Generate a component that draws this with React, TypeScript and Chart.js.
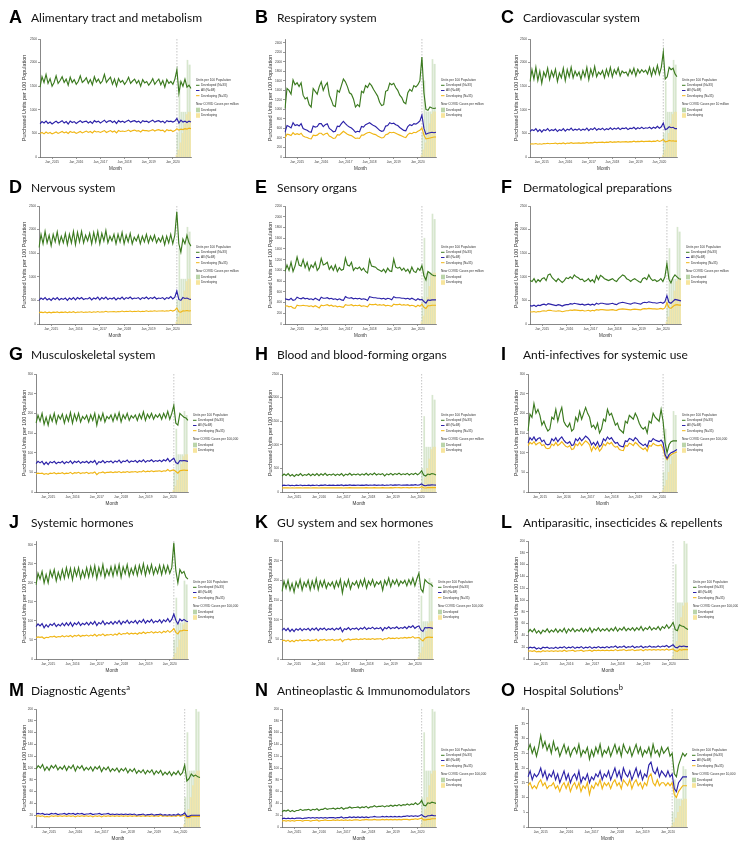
import React, { useEffect, useRef } from "react";
import { Chart, registerables } from "chart.js";
Chart.register(...registerables);

// ---------- categories ----------
const MONTH_NAMES = ["Jan","Feb","Mar","Apr","May","Jun","Jul","Aug","Sep","Oct","Nov","Dec"];
const MONTHS: string[] = [];
for (let i = 0; i < 76; i++) {
  const k = 6 + i; // starts Jul 2014
  MONTHS.push(`${MONTH_NAMES[k % 12]}_${2014 + Math.floor(k / 12)}`);
}
const X_TICK_LABELS = ["Jan_2015","Jan_2016","Jan_2017","Jan_2018","Jan_2019","Jan_2020"];
const COVID_START = "Mar_2020";
const COVID_MONTHS = ["Mar_2020","Apr_2020","May_2020","Jun_2020","Jul_2020","Aug_2020","Sep_2020","Oct_2020"];
const COVID_DEVELOPED_PER_MILLION = [500,1600,950,950,950,2050,1950,1950];
const COVID_DEVELOPING_PER_MILLION = [40,150,300,500,700,900,950,950];

// ---------- series (Jul 2014 .. Oct 2020) ----------
const A_DEV = [1480,1700,1580,1750,1560,1660,
1500,1580,1720,1560,1620,1700,1580,1650,1520,1690,1580,1640,
1540,1600,1720,1580,1620,1680,1560,1640,1530,1700,1590,1650,
1560,1610,1750,1580,1640,1690,1540,1650,1500,1660,1580,1620,
1540,1600,1690,1560,1610,1650,1560,1620,1500,1640,1570,1600,
1520,1580,1660,1540,1600,1650,1530,1620,1480,1640,1560,1600,
1540,1650,1850,1350,1600,1500,1650,1480,1520,1450];
const A_ALL = [700,750,720,760,710,740,
700,730,760,720,740,770,720,750,700,760,730,750,
710,740,770,730,750,760,720,750,710,770,740,760,
720,750,780,730,760,770,730,760,710,770,740,760,
730,760,780,740,760,770,740,760,720,770,750,760,
730,760,780,740,760,770,740,760,720,770,750,760,
740,760,820,720,780,740,760,730,760,740];
const A_DVG = [500,520,490,530,500,520,
490,510,530,500,520,540,510,530,500,540,520,530,
500,520,540,510,530,550,520,540,510,550,530,540,
520,540,560,520,540,560,530,550,510,560,540,550,
540,550,570,540,560,570,550,560,530,570,560,560,
550,560,580,550,570,580,560,570,530,580,560,570,
540,560,600,570,590,580,600,590,610,600];

const B_DEV = [1020,1440,1400,1320,1620,1520,
1560,1480,1560,1300,1220,1250,1100,1050,1440,1380,1320,1480,
1580,1400,1500,1560,1300,1200,1080,1060,1400,1360,1500,1640,
1580,1480,1350,1320,1220,1050,1100,1060,1380,1350,1500,1460,
1550,1500,1420,1350,1280,1150,1080,1100,1380,1400,1550,1520,
1550,1460,1400,1300,1250,1150,1120,1350,1420,1380,1500,1470,
1520,1600,2100,1350,1000,980,1050,1030,1020,1030];
const B_ALL = [520,660,640,610,720,660,
680,650,700,600,580,560,530,520,650,630,640,700,
700,640,680,700,600,570,530,540,650,640,700,750,
700,660,630,610,570,520,540,530,640,630,680,700,
720,690,660,640,600,560,540,550,650,660,720,700,
710,680,660,620,590,560,550,640,680,660,700,690,
720,760,880,600,480,500,510,520,510,520];
const B_DVG = [400,480,470,450,510,470,
490,470,500,440,420,410,390,380,460,450,460,500,
500,460,490,500,440,420,390,400,470,460,500,540,
510,480,460,450,420,390,400,390,460,460,490,510,
520,500,480,470,440,420,400,410,470,480,520,510,
520,500,480,460,440,420,410,470,500,490,520,510,
540,560,610,460,380,390,400,410,420,420];

const C_DEV = [1600,1850,1650,1900,1620,1820,
1560,1800,1700,1880,1640,1820,1700,1860,1600,1780,1680,1880,
1620,1850,1700,1900,1680,1820,1720,1800,1650,1830,1700,1900,
1640,1860,1720,1920,1700,1800,1750,1830,1680,1860,1720,1900,
1700,1850,1760,1890,1720,1820,1780,1800,1720,1850,1760,1880,
1720,1860,1780,1850,1800,1840,1760,1900,1720,1880,1760,1940,
1750,1900,2220,1650,1700,1900,1850,1880,1760,1700];
const C_ALL = [540,580,560,600,540,580,
530,580,560,600,550,580,560,590,540,580,560,600,
550,590,570,610,560,590,570,600,560,590,570,610,
560,600,580,620,570,600,580,610,570,600,580,620,
580,610,590,620,580,610,600,620,580,610,600,630,
590,620,600,630,600,620,610,630,600,630,610,650,
610,640,720,580,600,640,620,630,600,600];
const C_DVG = [270,280,275,285,270,280,
270,285,280,290,280,285,285,295,280,290,285,300,
280,295,290,305,290,295,295,300,290,300,295,310,
295,305,300,315,305,310,310,315,305,315,310,325,
310,320,315,325,315,320,320,325,315,325,320,335,
320,330,325,335,325,330,330,335,325,335,330,350,
330,345,370,320,330,350,340,345,335,335];

const D_DEV = [1620,1900,1700,1960,1720,1880,
1660,1900,1740,1950,1700,1860,1720,1920,1680,1900,1720,1960,
1680,1940,1740,1960,1720,1880,1760,1920,1700,1940,1740,1960,
1700,1920,1760,1980,1720,1860,1760,1900,1700,1900,1740,1940,
1700,1880,1740,1920,1700,1840,1760,1880,1700,1860,1740,1900,
1720,1860,1760,1880,1720,1820,1740,1860,1680,1860,1720,1900,
1700,1880,2380,1700,1520,1800,1700,1880,1720,1650];
const D_ALL = [500,550,520,560,510,540,
500,550,520,560,510,540,520,550,500,550,520,560,
510,560,530,560,520,540,530,560,510,550,530,570,
510,560,530,570,520,550,530,560,510,550,530,570,
520,560,540,570,530,550,540,560,520,560,540,570,
530,560,540,570,530,550,540,560,520,560,540,580,
530,570,700,520,500,560,540,550,530,520];
const D_DVG = [240,250,240,255,235,250,
235,250,245,255,240,250,245,255,240,255,245,260,
240,255,250,260,245,255,250,260,245,260,250,265,
250,260,255,270,255,260,260,265,255,265,260,275,
260,270,265,275,260,270,265,275,260,270,265,280,
265,275,270,280,270,275,275,280,270,280,275,290,
275,290,340,260,250,280,275,285,275,280];

const E_DEV = [980,1100,1000,1150,980,1080,
1250,1100,1080,1200,1050,1150,1000,1100,1050,1150,1000,1050,
1220,1100,1120,1150,1020,1080,1000,1100,980,1050,1000,1020,
1230,1100,1080,1150,1000,1050,1030,1060,1000,1040,980,950,
1200,1080,1070,1060,1020,1000,980,1020,960,1040,990,980,
1210,1060,1040,1060,1000,1040,980,1020,950,1060,980,960,
1040,1000,1090,900,820,980,950,920,900,900];
const E_ALL = [470,460,450,480,440,450,
500,480,470,490,470,480,460,470,450,480,460,440,
500,480,480,490,470,480,460,470,450,470,450,440,
510,490,480,490,470,480,470,480,460,470,460,440,
510,500,490,490,480,480,470,480,460,480,470,450,
510,490,490,490,480,480,470,480,460,480,460,440,
470,450,460,420,390,450,440,450,450,450];
const E_DVG = [330,340,320,330,300,290,
350,340,340,350,340,340,330,340,320,340,320,300,
350,340,350,360,340,350,330,340,320,330,320,310,
360,350,350,360,340,350,340,350,330,340,330,320,
370,360,360,370,350,360,350,360,340,350,340,330,
370,360,360,370,350,360,350,360,340,350,340,320,
350,330,370,310,290,340,340,350,350,350];

const F_DEV = [920,900,960,880,940,900,
960,980,920,1040,1060,980,940,900,960,920,880,920,
980,960,1000,960,1040,1000,980,940,950,900,920,960,
900,940,880,1020,940,1030,1000,960,940,920,940,960,
920,900,960,1000,1040,1020,960,940,900,940,960,930,
900,880,960,980,940,1040,960,920,940,900,920,960,
900,1000,1280,950,870,980,1040,1000,960,950];
const F_ALL = [390,380,400,370,400,390,
410,420,400,430,420,410,400,390,410,400,380,400,
410,410,430,420,440,430,420,410,420,400,410,420,
400,420,400,440,420,440,440,430,420,420,430,440,
420,410,440,450,460,450,440,430,420,440,450,440,
430,420,450,460,450,470,460,450,450,440,450,460,
440,470,600,460,440,480,520,510,500,490];
const F_DVG = [260,255,265,250,265,260,
275,280,270,290,290,280,275,270,280,275,260,270,
280,280,295,290,300,295,290,285,290,275,280,290,
275,290,280,305,295,305,305,300,295,295,300,305,
295,290,310,315,320,315,310,305,300,310,315,310,
305,300,320,325,320,330,325,320,320,315,320,330,
315,340,450,350,330,370,400,410,400,400];

const G_DEV = [175,195,180,200,172,190,
170,195,180,200,175,195,185,198,175,195,180,202,
175,198,182,200,178,192,185,195,178,196,182,200,
170,195,182,200,178,192,186,196,180,198,184,202,
178,196,186,200,182,194,188,196,182,198,186,204,
182,198,188,200,185,196,190,198,185,200,188,205,
185,200,220,175,170,200,195,190,188,182];
const G_ALL = [72,78,74,78,70,76,
70,77,74,78,72,76,74,78,72,77,74,79,
72,78,75,79,73,77,75,78,73,78,75,80,
70,77,75,80,74,78,76,79,74,79,76,81,
74,79,77,81,75,79,77,80,75,80,77,82,
76,80,78,82,77,80,78,81,77,82,79,85,
77,82,86,75,72,80,79,80,79,78];
const G_DVG = [46,48,47,48,45,47,
45,48,47,49,46,48,47,49,46,48,47,50,
46,49,48,50,47,49,48,50,47,49,48,51,
44,49,49,51,48,50,50,51,49,51,50,52,
49,51,50,52,50,51,51,52,50,52,51,54,
51,53,52,54,52,53,53,54,52,54,53,57,
53,55,56,52,48,54,55,56,55,55];

const H_DEV = [340,380,350,390,340,370,
330,370,350,390,345,370,355,385,345,380,350,390,
345,385,355,395,350,375,360,385,350,380,355,390,
340,380,360,395,355,380,365,385,355,385,360,395,
355,390,365,400,360,385,370,390,340,385,365,395,
360,390,370,400,365,385,370,395,360,390,370,400,
365,395,450,360,340,380,370,390,380,360];
const H_ALL = [135,145,138,148,135,142,
132,144,138,148,136,142,138,146,136,144,138,148,
134,146,140,150,138,144,140,146,138,145,140,150,
136,146,142,150,140,145,142,148,140,146,142,152,
140,148,144,152,142,147,144,150,138,148,144,153,
142,150,146,154,144,149,146,152,143,150,146,156,
144,152,170,140,132,148,146,150,148,146];
const H_DVG = [85,88,86,89,84,87,
84,88,86,90,85,88,86,89,85,88,86,90,
84,89,87,91,86,89,87,90,86,89,87,91,
85,89,88,92,87,90,88,91,87,90,88,93,
88,91,89,93,88,91,89,92,86,91,89,94,
89,92,90,94,89,92,90,93,89,93,91,96,
90,94,110,90,85,92,92,94,93,92];

const I_DEV = [155,198,190,225,200,210,
195,170,180,165,155,160,190,185,210,180,200,215,
180,170,165,175,155,160,190,180,205,185,200,215,
200,190,165,170,160,175,150,160,185,180,210,195,
200,185,170,175,160,155,150,180,175,195,190,185,
200,190,175,165,160,165,150,180,175,200,190,185,
180,210,180,125,100,120,128,130,130,130];
const I_ALL = [125,138,132,140,130,136,
138,128,132,122,120,122,135,130,138,128,135,140,
132,126,124,128,118,120,135,130,138,130,136,142,
138,132,120,126,118,128,115,120,135,130,140,134,
138,130,124,126,118,116,115,130,128,136,134,130,
138,134,126,122,118,122,115,130,128,136,132,130,
128,132,125,95,85,95,100,102,105,108];
const I_DVG = [118,126,122,128,120,124,
126,118,120,112,110,112,122,118,126,118,122,128,
122,116,114,118,108,110,122,118,126,118,124,130,
126,120,104,116,108,116,104,110,122,118,126,122,
126,118,114,116,108,106,105,118,116,124,122,118,
126,122,116,112,108,112,104,118,116,124,120,118,
118,120,110,90,82,90,95,98,100,102];

const J_DEV = [195,225,210,230,200,222,
200,232,215,235,205,228,210,235,212,240,215,238,
208,238,218,240,212,232,215,240,215,242,218,245,
212,240,220,248,215,235,220,242,218,245,222,248,
215,242,224,248,218,238,222,244,220,246,225,250,
220,244,226,248,222,240,225,246,222,246,226,245,
225,240,305,232,200,235,225,230,215,210];
const J_ALL = [85,92,87,93,82,90,
84,92,88,94,85,91,87,94,87,95,88,96,
86,95,90,97,88,94,90,96,89,97,91,99,
88,96,92,100,90,96,92,98,91,99,93,101,
91,99,95,102,93,99,95,101,93,101,96,104,
94,101,97,104,95,100,97,103,95,103,98,106,
97,104,118,102,92,105,100,104,100,98];
const J_DVG = [56,58,57,58,54,57,
56,59,58,60,57,59,58,61,58,61,59,62,
58,62,60,63,59,62,61,63,60,63,61,65,
60,64,62,66,61,64,63,65,62,66,63,68,
64,67,66,69,65,68,66,68,65,69,67,71,
67,70,69,72,68,71,69,72,68,73,70,75,
70,74,80,70,66,74,74,76,75,75];

const K_DEV = [172,198,180,200,175,192,
170,196,182,202,175,195,184,200,176,198,180,204,
176,198,184,200,180,194,186,196,180,198,184,202,
168,196,184,202,178,194,188,198,182,200,186,204,
180,198,188,202,184,196,190,198,175,200,188,206,
184,200,190,202,186,198,192,200,186,202,190,206,
186,204,218,178,170,202,196,192,190,184];
const K_ALL = [73,78,72,78,70,76,
70,77,73,78,72,77,74,78,72,78,74,79,
72,78,75,79,73,77,75,78,73,78,75,80,
69,77,75,80,74,78,76,79,74,79,76,81,
75,79,77,81,76,79,77,80,72,80,77,82,
77,80,78,82,77,80,78,82,77,83,80,85,
78,82,84,74,70,80,79,80,79,78];
const K_DVG = [46,48,45,48,44,47,
44,48,46,49,46,48,47,49,46,48,47,50,
45,49,48,50,47,49,48,50,47,49,48,51,
44,49,49,51,48,50,50,51,49,51,50,52,
50,51,50,52,50,51,51,52,49,52,51,54,
52,53,52,54,52,54,53,55,53,55,54,57,
53,54,55,50,46,53,55,56,55,55];

const L_DEV = [45,50,46,51,44,48,
43,49,46,51,45,49,46,51,45,50,46,52,
44,51,47,52,46,50,47,52,46,51,47,53,
45,51,48,53,47,51,48,52,47,52,48,54,
47,52,49,54,48,52,49,53,48,53,49,55,
48,53,50,55,49,53,50,55,49,55,52,58,
52,56,62,50,48,58,56,55,52,50];
const L_ALL = [18,20,19,20,17,19,
17,20,19,20,18,19,18,20,18,20,19,21,
18,20,19,21,18,20,19,21,18,20,19,21,
18,20,19,21,19,20,19,21,19,21,20,22,
19,21,20,22,19,21,20,22,19,21,20,22,
19,21,20,22,20,21,20,22,20,22,21,23,
20,22,24,20,19,22,21,22,21,21];
const L_DVG = [13,14,13,14,12,13,
12,14,13,14,13,14,13,14,13,14,13,15,
13,14,14,15,13,14,14,15,13,14,14,15,
13,15,14,15,14,15,14,15,14,15,14,16,
14,15,15,16,14,15,15,16,14,15,15,16,
14,16,15,16,15,16,15,16,15,16,15,17,
15,16,17,14,13,16,15,16,16,16];

const M_DEV = [98,104,100,106,96,102,
96,104,100,105,97,102,98,104,96,103,99,105,
95,103,99,104,96,101,97,102,95,102,98,103,
94,101,97,102,94,99,95,100,93,99,95,100,
92,98,94,99,91,96,92,97,90,96,92,97,
89,95,91,96,88,93,89,94,87,93,89,95,
88,92,105,78,82,90,86,88,85,84];
const M_ALL = [22,23,22,23,21,22,
21,23,22,23,21,22,22,23,21,23,22,23,
21,23,22,23,21,22,22,23,21,22,22,23,
21,22,22,23,21,22,21,22,21,22,21,22,
21,22,21,22,20,21,21,22,20,21,21,22,
20,21,21,22,20,21,20,21,20,21,20,22,
20,21,24,18,18,20,20,20,20,20];
const M_DVG = [18,19,18,19,17,18,
17,19,18,19,18,19,18,19,18,19,18,19,
17,19,18,19,18,19,18,19,17,19,18,19,
17,19,18,19,18,19,18,19,18,19,18,19,
18,19,18,19,18,19,18,19,18,19,18,19,
18,19,18,20,18,19,18,19,18,19,18,20,
18,19,20,16,16,18,18,18,18,18];

const N_DEV = [26,28,27,29,26,28,
26,28,28,30,28,29,29,30,28,30,29,31,
28,30,30,32,30,31,31,32,30,32,31,33,
30,32,32,34,32,33,33,34,32,34,33,35,
32,34,34,36,34,35,35,36,34,36,35,37,
35,37,36,38,36,38,37,39,37,39,38,41,
38,40,45,37,36,41,40,42,41,40];
const N_ALL = [14,15,14,15,14,15,
14,15,15,15,14,15,15,16,15,16,15,16,
15,16,15,16,15,16,16,16,15,16,16,17,
15,16,16,17,16,17,16,17,16,17,16,17,
16,17,17,18,17,17,17,18,17,18,17,18,
17,18,17,18,17,18,18,19,18,19,18,19,
18,19,21,18,17,19,19,20,19,19];
const N_DVG = [10,11,10,11,10,11,
10,11,11,11,10,11,11,11,10,11,11,12,
10,11,11,12,11,11,11,12,11,12,11,12,
11,12,11,12,11,12,12,12,11,12,12,13,
12,12,12,13,12,12,12,13,12,13,12,13,
12,13,12,13,12,13,13,13,12,13,13,14,
13,14,15,12,12,13,13,14,14,14];

const O_DEV = [26,28,25,27,24,27,
31,27,29,26,28,25,29,26,27,24,26,28,
25,27,24,26,27,25,28,24,26,25,27,23,
26,24,27,25,28,24,26,25,27,24,26,28,
25,27,24,28,26,25,27,24,26,28,25,27,
24,26,25,27,24,28,25,26,24,27,25,26,
27,24,25,18,17,21,23,25,24,25];
const O_ALL = [17,19,16,18,17,18,
20,17,19,16,18,17,19,16,18,15,17,19,
16,18,15,17,18,16,19,15,17,16,18,15,
17,16,18,17,19,16,18,17,19,16,18,20,
17,19,16,20,18,17,19,16,18,20,17,19,
16,18,17,21,22,19,18,20,17,19,18,17,
19,17,18,13,12,15,16,17,17,17];
const O_DVG = [14,15,13,14,13,15,
16,14,15,13,14,14,15,13,14,12,14,15,
13,15,12,14,15,13,15,12,14,13,15,11,
14,13,15,14,16,13,15,14,15,13,15,16,
14,15,13,16,15,14,16,13,15,16,14,15,
13,15,14,17,18,15,14,16,14,15,15,14,
15,14,15,11,10,12,13,14,14,14];

// ---------- style ----------
const GREEN = "#3b7a1f";
const BLUE = "#2c22a8";
const ORANGE = "#f0b616";
const BAR_GREEN = "rgba(150,190,125,0.38)";
const BAR_YELLOW = "rgba(246,224,140,0.6)";
const AXIS = "#555";
const TICK = "#444";
const FONT = "'Liberation Sans', Arial, sans-serif";

type Cfg = {
  letter: string; title: string; sup?: string;
  dev: number[]; all: number[]; dvg: number[];
  yMax: number; yStep: number; unit: string; divisor: number;
  left: number; right: number; legend: boolean;
};

const PANELS: Cfg[] = [
  { letter: "A", title: "Alimentary tract and metabolism", dev: A_DEV, all: A_ALL, dvg: A_DVG, yMax: 2500, yStep: 500, unit: "million", divisor: 1, left: 40, right: 191, legend: true },
  { letter: "B", title: "Respiratory system", dev: B_DEV, all: B_ALL, dvg: B_DVG, yMax: 2480, yStep: 200, unit: "million", divisor: 1, left: 39, right: 190, legend: true },
  { letter: "C", title: "Cardiovascular system", dev: C_DEV, all: C_ALL, dvg: C_DVG, yMax: 2500, yStep: 500, unit: "10 million", divisor: 1, left: 38, right: 185, legend: true },
  { letter: "D", title: "Nervous system", dev: D_DEV, all: D_ALL, dvg: D_DVG, yMax: 2500, yStep: 500, unit: "million", divisor: 1, left: 39, right: 191, legend: true },
  { letter: "E", title: "Sensory organs", dev: E_DEV, all: E_ALL, dvg: E_DVG, yMax: 2200, yStep: 200, unit: "million", divisor: 1, left: 39, right: 190, legend: true },
  { letter: "F", title: "Dermatological preparations", dev: F_DEV, all: F_ALL, dvg: F_DVG, yMax: 2500, yStep: 500, unit: "million", divisor: 1, left: 38, right: 189, legend: true },
  { letter: "G", title: "Musculoskeletal system", dev: G_DEV, all: G_ALL, dvg: G_DVG, yMax: 300, yStep: 50, unit: "100,000", divisor: 10, left: 36, right: 188, legend: true },
  { letter: "H", title: "Blood and blood-forming organs", dev: H_DEV, all: H_ALL, dvg: H_DVG, yMax: 2500, yStep: 500, unit: "million", divisor: 1, left: 36, right: 190, legend: true },
  { letter: "I", title: "Anti-infectives for systemic use", dev: I_DEV, all: I_ALL, dvg: I_DVG, yMax: 300, yStep: 50, unit: "100,000", divisor: 10, left: 36, right: 185, legend: true },
  { letter: "J", title: "Systemic hormones", dev: J_DEV, all: J_ALL, dvg: J_DVG, yMax: 310, yStep: 50, unit: "100,000", divisor: 10, left: 36, right: 188, legend: true },
  { letter: "K", title: "GU system and sex hormones", dev: K_DEV, all: K_ALL, dvg: K_DVG, yMax: 300, yStep: 50, unit: "100,000", divisor: 10, left: 36, right: 187, legend: true },
  { letter: "L", title: "Antiparasitic, insecticides & repellents", dev: L_DEV, all: L_ALL, dvg: L_DVG, yMax: 200, yStep: 20, unit: "100,000", divisor: 10, left: 36, right: 196, legend: true },
  { letter: "M", title: "Diagnostic Agents", sup: "a", dev: M_DEV, all: M_ALL, dvg: M_DVG, yMax: 200, yStep: 20, unit: "100,000", divisor: 10, left: 36, right: 200, legend: false },
  { letter: "N", title: "Antineoplastic & Immunomodulators", dev: N_DEV, all: N_ALL, dvg: N_DVG, yMax: 200, yStep: 20, unit: "100,000", divisor: 10, left: 36, right: 190, legend: true },
  { letter: "O", title: "Hospital Solutions", sup: "b", dev: O_DEV, all: O_ALL, dvg: O_DVG, yMax: 40, yStep: 5, unit: "10,000", divisor: 100, left: 36, right: 195, legend: true },
];

const ROW_TOPS = [0, 167, 335, 502, 670];
const TITLE_BASELINE = [23, 26, 25, 26, 26];
const COL_LEFTS = [0, 246, 492];
const PANEL_W = 246;
const PANEL_H = 172;

function barData(src: number[], divisor: number) {
  return MONTHS.map((m) => {
    const k = COVID_MONTHS.indexOf(m);
    return k >= 0 ? src[k] / divisor : null;
  });
}

function Panel({ cfg, row, col }: { cfg: Cfg; row: number; col: number }) {
  const ref = useRef<HTMLCanvasElement>(null);
  useEffect(() => {
    const canvas = ref.current!;
    const overlay = {
      id: "overlay",
      beforeDatasetsDraw(chart: any) {
        const { ctx, chartArea } = chart;
        const x = chart.scales.x.getPixelForValue(MONTHS.indexOf(COVID_START));
        ctx.save();
        ctx.strokeStyle = "#b5b5b5";
        ctx.lineWidth = 0.8;
        ctx.setLineDash([1.5, 1.5]);
        ctx.beginPath();
        ctx.moveTo(x, chartArea.top);
        ctx.lineTo(x, chartArea.bottom);
        ctx.stroke();
        ctx.restore();
      },
      afterDraw(chart: any) {
        if (!cfg.legend) return;
        const { ctx, chartArea } = chart;
        const x0 = chartArea.right + 5;
        ctx.save();
        ctx.font = `3.2px ${FONT}`;
        ctx.fillStyle = "#333";
        ctx.textBaseline = "middle";
        ctx.fillText("Units per 100 Population", x0, 80);
        const lines: [string, string, number][] = [
          ["Developed (N=33)", GREEN, 85.3],
          ["All (N=68)", BLUE, 90.5],
          ["Developing (N=35)", ORANGE, 95.7],
        ];
        for (const [t, c, y] of lines) {
          ctx.strokeStyle = c;
          ctx.lineWidth = 1;
          ctx.beginPath();
          ctx.moveTo(x0, y);
          ctx.lineTo(x0 + 3.5, y);
          ctx.stroke();
          ctx.fillStyle = "#333";
          ctx.fillText(t, x0 + 5, y);
        }
        ctx.fillText(`New COVID Cases per ${cfg.unit}`, x0, 104);
        const boxes: [string, string, number][] = [
          ["Developed", "rgba(150,190,125,0.65)", 110],
          ["Developing", "rgba(246,224,140,0.85)", 115.5],
        ];
        for (const [t, c, y] of boxes) {
          ctx.fillStyle = c;
          ctx.fillRect(x0, y - 2.3, 4, 4.6);
          ctx.fillStyle = "#333";
          ctx.fillText(t, x0 + 5, y);
        }
        ctx.restore();
      },
    };
    const tickFont = { size: 3.2, family: FONT };
    const chart = new Chart(canvas, {
      type: "line",
      data: {
        labels: MONTHS,
        datasets: [
          { type: "line", label: "Developed (N=33)", data: cfg.dev, borderColor: GREEN, borderWidth: 1.15, pointRadius: 0, tension: 0, order: 0 },
          { type: "line", label: "All (N=68)", data: cfg.all, borderColor: BLUE, borderWidth: 1.15, pointRadius: 0, tension: 0, order: 0 },
          { type: "line", label: "Developing (N=35)", data: cfg.dvg, borderColor: ORANGE, borderWidth: 1.15, pointRadius: 0, tension: 0, order: 0 },
          { type: "bar", label: "Developed", data: barData(COVID_DEVELOPED_PER_MILLION, cfg.divisor), backgroundColor: BAR_GREEN, barPercentage: 1, categoryPercentage: 1, order: 2 },
          { type: "bar", label: "Developing", data: barData(COVID_DEVELOPING_PER_MILLION, cfg.divisor), backgroundColor: BAR_YELLOW, barPercentage: 1, categoryPercentage: 1, order: 1 },
        ] as any,
      },
      options: {
        animation: false,
        responsive: false,
        devicePixelRatio: 1,
        layout: { padding: { top: 39, left: 20, right: PANEL_W - cfg.right, bottom: 0 } },
        plugins: { legend: { display: false }, tooltip: { enabled: false }, title: { display: false } },
        scales: {
          x: {
            type: "category",
            offset: false,
            grid: { display: true, drawOnChartArea: false, drawTicks: true, tickLength: 2, color: AXIS, lineWidth: 0.6, offset: false },
            border: { display: true, color: AXIS, width: 0.7 },
            ticks: {
              autoSkip: false, maxRotation: 0, minRotation: 0, padding: 1, font: tickFont, color: TICK,
              callback: (_v: any, i: number) => (X_TICK_LABELS.includes(MONTHS[i]) ? MONTHS[i] : null),
            },
            title: { display: true, text: "Month", font: { size: 4.6, family: FONT }, color: "#333", padding: { top: 0, bottom: 1 } },
            afterFit: (s: any) => { s.height = PANEL_H - 157; },
          },
          y: {
            min: 0,
            max: cfg.yMax,
            grid: { display: true, drawOnChartArea: false, drawTicks: true, tickLength: 2, color: AXIS, lineWidth: 0.6 },
            border: { display: true, color: AXIS, width: 0.7 },
            ticks: {
              stepSize: cfg.yStep, padding: 1, font: tickFont, color: TICK,
              callback: (v: any) => (Number(v) % cfg.yStep === 0 ? String(v) : null),
            },
            title: { display: true, text: "Purchased Units per 100 Population", font: { size: 5.4, family: FONT }, color: "#333", padding: { top: 1, bottom: 0 } },
            afterFit: (s: any) => { s.width = cfg.left - 20; },
          },
        },
      } as any,
      plugins: [overlay],
    });
    return () => chart.destroy();
  }, []);

  const baseline = TITLE_BASELINE[row];
  return (
    <div style={{ position: "absolute", left: COL_LEFTS[col], top: ROW_TOPS[row], width: PANEL_W, height: PANEL_H }}>
      <canvas ref={ref} width={PANEL_W} height={PANEL_H} style={{ position: "absolute", left: 0, top: 0, width: PANEL_W, height: PANEL_H }} />
      <div style={{ position: "absolute", left: 9, top: baseline - 15.2, font: `bold 18px ${FONT}`, lineHeight: "18px", color: "#000", whiteSpace: "nowrap" }}>
        {cfg.letter}
      </div>
      <div style={{ position: "absolute", left: 31, top: baseline - 10.6, font: "12px Lato, 'Open Sans', sans-serif", lineHeight: "12px", color: "#111", whiteSpace: "nowrap" }}>
        {cfg.title}
        {cfg.sup ? <sup style={{ fontSize: "7.5px", lineHeight: 0 }}>{cfg.sup}</sup> : null}
      </div>
    </div>
  );
}

export default function App() {
  return (
    <div style={{ position: "absolute", left: 0, top: 0, width: 738, height: 842, overflow: "hidden", background: "#fff" }}>
      {PANELS.map((cfg, i) => (
        <Panel key={cfg.letter} cfg={cfg} row={Math.floor(i / 3)} col={i % 3} />
      ))}
    </div>
  );
}
